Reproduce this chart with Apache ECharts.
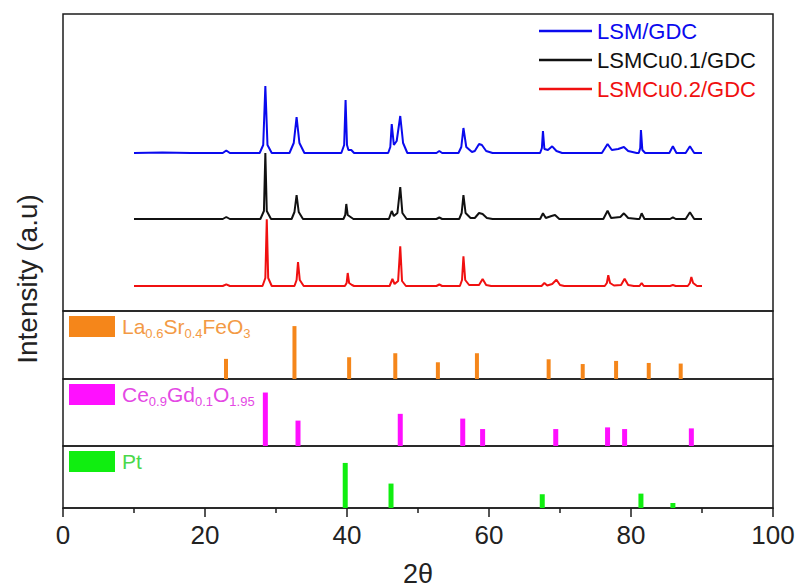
<!DOCTYPE html>
<html>
<head>
<meta charset="utf-8">
<script src="https://cdn.jsdelivr.net/npm/echarts@6/dist/echarts.min.js"></script>
<style>
html,body{margin:0;padding:0;background:#fff;}
#chart{width:799px;height:588px;}
</style>
</head>
<body>
<div id="chart"></div>
<script>
// ---------- DATA ----------
const xTicks = [0, 20, 40, 60, 80, 100];
const sampleNames = ['LSM/GDC', 'LSMCu0.1/GDC', 'LSMCu0.2/GDC'];
const sampleColors = ['#0a0aee', '#111111', '#f01010'];
// vertical offsets (a.u.) of the stacked patterns
const sampleOffsets = [158, 92, 25];

// [2theta, intensity above own baseline]
const lsmGdc = [[10,0],[14,0.6],[18,0],[22.5,0],[23.0,2.5],[23.5,0],[27.7,0],[28.2,8],[28.5,67],[28.8,8],[29.4,0],
  [31.9,0],[32.5,10],[32.9,36],[33.3,10],[34.0,0],[39.2,0],[39.6,8],[39.8,53],[40.0,8],[40.2,3],[40.6,3],[41.0,0],
  [45.8,0],[46.1,6],[46.3,29],[46.6,8],[47.0,12],[47.5,37],[47.9,10],[48.5,0],[52.6,0],[53.0,2],[53.4,0],
  [55.7,0],[56.1,6],[56.4,25],[56.8,6],[57.6,1],[58.0,2],[58.6,9],[59.0,8],[59.6,2],[60.5,0],
  [67.2,0],[67.45,5],[67.6,22],[67.8,4],[68.3,3],[68.9,6.7],[69.5,2],[70.3,0],
  [75.9,0],[76.7,9],[77.3,3],[78.2,4],[79.0,6],[79.6,2],[80.8,0],[81.1,0],[81.3,5],[81.4,23],[81.6,3],[82.0,0],
  [85.4,0],[85.9,6.7],[86.4,0],[87.7,0],[88.3,6.7],[88.9,0],[90,0]];

const lsmCu01Gdc = [[10,0],[22.5,0],[23.0,2],[23.5,0],[27.8,0],[28.3,8],[28.5,66],[28.7,8],[29.3,0],
  [32.2,0],[32.6,7],[32.9,24],[33.2,7],[33.8,0],[39.5,0],[39.75,4],[39.9,15],[40.1,4],[40.5,2],[40.9,0],
  [45.9,0],[46.3,8],[46.6,3],[47.1,6],[47.5,32],[47.8,6],[48.4,0],[52.6,0],[53.0,1.5],[53.4,0],
  [55.8,0],[56.15,6],[56.4,24],[56.7,6],[57.4,1],[58.0,1],[58.6,6],[59.1,5],[59.7,1],[60.5,0],
  [67.2,0],[67.6,5.7],[68.0,1],[68.8,3],[69.3,4],[69.9,0],
  [76.1,0],[76.7,8.3],[77.2,1],[78.5,2],[79.0,5.7],[79.6,1],[80.9,0],[81.2,0],[81.5,5.7],[81.9,0],
  [85.5,0],[85.9,1.7],[86.3,0],[87.7,0],[88.3,6.7],[88.9,0],[90,0]];

const lsmCu02Gdc = [[10,0],[22.5,0],[23.0,1.7],[23.5,0],[28.1,0],[28.5,8],[28.7,66.7],[28.9,8],[29.4,0],
  [32.6,0],[32.9,6],[33.1,24],[33.35,6],[33.9,0],[39.7,0],[39.95,3],[40.1,13],[40.3,3],[40.7,1],[41.0,0],
  [46.0,0],[46.4,7],[46.7,2],[47.2,5],[47.5,39.7],[47.75,5],[48.3,0],[52.6,0],[53.0,1.5],[53.4,0],
  [55.9,0],[56.2,6],[56.4,29.7],[56.65,6],[57.2,1],[58.6,1],[59.1,7],[59.6,1],[60.3,0],
  [67.4,0],[67.8,3],[68.2,0.5],[68.9,2],[69.5,6.3],[70.0,1],[70.6,0],
  [76.3,0],[76.6,3],[76.8,10.7],[77.05,3],[77.6,0.5],[78.6,1],[79.1,7.3],[79.6,1],[80.4,0],
  [81.2,0],[81.5,3],[81.8,0],[85.5,0],[85.9,1],[86.3,0],[88.0,0],[88.3,3],[88.5,9],[88.75,3],[89.3,0],[90,0]];

const sampleProfiles = [lsmGdc, lsmCu01Gdc, lsmCu02Gdc];

// reference patterns: [2theta, relative intensity %]
const lsfName = 'La0.6Sr0.4FeO3';
const lsfPeaks = [[22.96,29.6],[32.6,77.8],[40.3,32],[46.8,37.9],[52.8,24.6],[58.3,37.9],[68.4,29],[73.2,22],[77.9,26.6],[82.5,23.6],[87.0,22.7]];
const gdcName = 'Ce0.9Gd0.1O1.95';
const gdcPeaks = [[28.5,79.8],[33.1,37.9],[47.5,48],[56.3,40.9],[59.1,25.3],[69.4,25.3],[76.7,27.8],[79.1,25.3],[88.5,26.3]];
const ptName = 'Pt';
const ptPeaks = [[39.75,72.7],[46.2,39.4],[67.5,22.2],[81.4,23.2],[85.9,8.1]];

const refNames = [lsfName, gdcName, ptName];
const refLabels = ['{m|La}{s|0.6}{m|Sr}{s|0.4}{m|FeO}{s|3}', '{m|Ce}{s|0.9}{m|Gd}{s|0.1}{m|O}{s|1.95}', '{m|Pt}'];
const refPeaks = [lsfPeaks, gdcPeaks, ptPeaks];
const refColors = ['#f5861a', '#ff10ff', '#10ee10'];
const refTextColors = ['#f39a45', '#e448e4', '#4ad84a'];
const refBarWidths = [4, 5, 5];

// ---------- CHART ----------
const chart = echarts.init(document.getElementById('chart'), null, {renderer: 'svg'});
const FONT = "'Liberation Sans', Arial, Helvetica, sans-serif";
const frame = '#1c1c1c';

const gridBoxes = [
  {top: 14, height: 297},
  {top: 311, height: 68},
  {top: 379, height: 67},
  {top: 446, height: 66}
];

const grids = gridBoxes.map(g => ({
  left: 63, right: 26, top: g.top, height: g.height,
  show: true, borderColor: frame, borderWidth: 1.5, backgroundColor: 'transparent'
}));

const xAxes = gridBoxes.map((g, i) => {
  const last = i === gridBoxes.length - 1;
  return {
    type: 'value', gridIndex: i, min: xTicks[0], max: xTicks[xTicks.length - 1], interval: 20,
    show: last,
    axisLine: {show: true, lineStyle: {color: frame, width: 1.5}},
    axisTick: {show: true, inside: false, length: 9, lineStyle: {color: frame, width: 1.5}},
    minorTick: {show: true, splitNumber: 2, length: 5, lineStyle: {color: frame, width: 1.5}},
    splitLine: {show: false},
    axisLabel: {show: true, fontSize: 26, color: '#222', margin: 14, fontFamily: FONT},
    name: last ? '2\u03B8' : '',
    nameLocation: 'middle', nameGap: 52,
    nameTextStyle: {fontSize: 27, color: '#222', fontFamily: FONT}
  };
});

const yAxes = gridBoxes.map((g, i) => ({
  type: 'value', gridIndex: i, min: 0, max: i === 0 ? 297 : 100, show: false
}));

const series = [];
sampleProfiles.forEach((prof, k) => {
  series.push({
    name: sampleNames[k], type: 'line', xAxisIndex: 0, yAxisIndex: 0,
    showSymbol: false, symbol: 'none', animation: false,
    lineStyle: {color: sampleColors[k], width: 2},
    itemStyle: {color: sampleColors[k]},
    data: prof.map(p => [p[0], p[1] + sampleOffsets[k]])
  });
});
refPeaks.forEach((peaks, k) => {
  series.push({
    name: refNames[k], type: 'bar', xAxisIndex: k + 1, yAxisIndex: k + 1,
    barWidth: refBarWidths[k], animation: false,
    itemStyle: {color: refColors[k]},
    data: peaks
  });
});

const legends = [{
  orient: 'vertical', left: 539, top: 20, padding: 0,
  icon: 'rect', itemWidth: 53, itemHeight: 2.5, itemGap: 7,
  selectedMode: false,
  data: sampleNames.map((n, k) => ({name: n, textStyle: {color: sampleColors[k]}})),
  textStyle: {fontSize: 22, lineHeight: 22, fontFamily: FONT}
}];
refNames.forEach((n, k) => {
  legends.push({
    orient: 'vertical', left: 69, top: gridBoxes[k + 1].top + 5, padding: 0,
    icon: 'rect', itemWidth: 46, itemHeight: 21, selectedMode: false,
    data: [n],
    formatter: () => refLabels[k],
    textStyle: {
      fontFamily: FONT, padding: [0, 0, 0, 2],
      rich: {
        m: {fontSize: 21, color: refTextColors[k], fontFamily: FONT, lineHeight: 24},
        s: {fontSize: 13, color: refTextColors[k], fontFamily: FONT, padding: [13, 0, 0, 0]}
      }
    }
  });
});

chart.setOption({
  animation: false,
  backgroundColor: '#ffffff',
  textStyle: {fontFamily: FONT},
  grid: grids,
  xAxis: xAxes,
  yAxis: yAxes,
  legend: legends,
  series: series,
  graphic: [{
    type: 'text', x: 27, y: 279, rotation: Math.PI / 2,
    style: {text: 'Intensity (a.u)', fontSize: 28, fontFamily: FONT, fill: '#222', align: 'center', verticalAlign: 'middle'}
  }]
});
</script>
</body>
</html>
